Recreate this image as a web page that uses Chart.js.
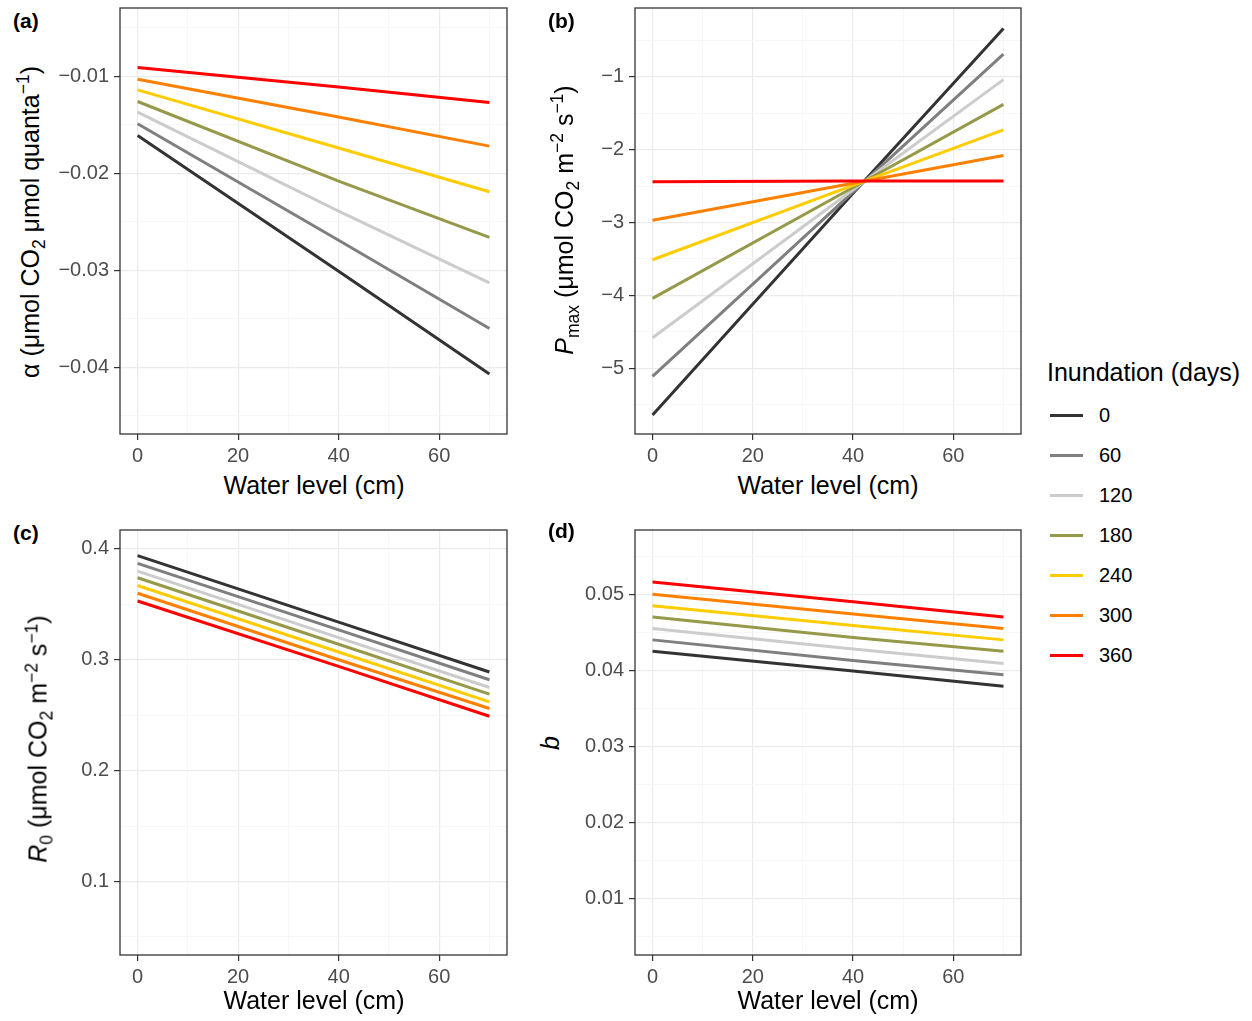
<!DOCTYPE html>
<html>
<head>
<meta charset="utf-8">
<script src="https://cdn.jsdelivr.net/npm/chart.js@4.4.0/dist/chart.umd.min.js"></script>
<style>
  body { margin: 0; background: #fff; font-family: "Liberation Sans", Arial, sans-serif; }
  #page { position: relative; width: 1252px; height: 1021px; overflow: hidden; }
  canvas { position: absolute; }
  .ytitle, .xtitle, .tag, .lg { position: absolute; white-space: nowrap; color: #000; }
  .ytitle { font-size: 25px; transform: translate(-50%, -50%) rotate(-90deg); }
  .xtitle { font-size: 25px; transform: translate(-50%, -50%); }
  .tag { font-size: 21px; font-weight: bold; transform: translateY(-50%); }
  sub, sup { font-size: 0.7em; line-height: 0; }
  .key { position: absolute; height: 3px; width: 33px; }
  .lg { font-size: 20px; transform: translateY(-50%); }
</style>
</head>
<body>
<div id="page">
  <canvas id="chartA" width="462" height="470" style="left:50px;top:0px"></canvas>
  <canvas id="chartB" width="461" height="470" style="left:565px;top:0px"></canvas>
  <canvas id="chartC" width="462" height="471" style="left:50px;top:520px"></canvas>
  <canvas id="chartD" width="461" height="471" style="left:565px;top:520px"></canvas>

  <div class="tag" style="left:13px;top:21px">(a)</div>
  <div class="tag" style="left:548px;top:21px">(b)</div>
  <div class="tag" style="left:13px;top:533px">(c)</div>
  <div class="tag" style="left:548px;top:531px">(d)</div>

  <div class="ytitle" style="left:30px;top:222px">α (μmol CO<sub>2</sub> μmol quanta<sup>−1</sup>)</div>
  <div class="ytitle" style="left:564px;top:220px"><i>P</i><sub>max</sub> (μmol CO<sub>2</sub> m<sup>−2</sup> s<sup>−1</sup>)</div>
  <div class="ytitle" style="left:38px;top:739px"><i>R</i><sub>0</sub> (μmol CO<sub>2</sub> m<sup>−2</sup> s<sup>−1</sup>)</div>
  <div class="ytitle" style="left:550px;top:743px"><i>b</i></div>

  <div class="xtitle" style="left:314px;top:485px">Water level (cm)</div>
  <div class="xtitle" style="left:828px;top:485px">Water level (cm)</div>
  <div class="xtitle" style="left:314px;top:1000px">Water level (cm)</div>
  <div class="xtitle" style="left:828px;top:1000px">Water level (cm)</div>

  <div class="lg" style="left:1047px;top:372px;font-size:25px">Inundation (days)</div>
  <div id="legend"></div>
</div>

<script>
// data
const waterLevel = [0, 40, 70];
const inundationDays = ['0', '60', '120', '180', '240', '300', '360'];
const lineColors = ['#333333', '#7f7f7f', '#cccccc', '#96994a', '#ffcc00', '#ff8000', '#ff0000'];

// (a) alpha
const alpha0   = [-0.0161, -0.0301, -0.0407];
const alpha60  = [-0.0149, -0.0269, -0.0360];
const alpha120 = [-0.0137, -0.0239, -0.0313];
const alpha180 = [-0.0126, -0.0208, -0.0266];
const alpha240 = [-0.0114, -0.0174, -0.0219];
const alpha300 = [-0.0103, -0.0142, -0.0172];
const alpha360 = [-0.0091, -0.0111, -0.0127];

// (b) Pmax
const pmax0   = [-5.64, -2.60, -0.34];
const pmax60  = [-5.11, -2.58, -0.69];
const pmax120 = [-4.58, -2.55, -1.04];
const pmax180 = [-4.04, -2.52, -1.38];
const pmax240 = [-3.51, -2.49, -1.73];
const pmax300 = [-2.97, -2.46, -2.08];
const pmax360 = [-2.44, -2.43, -2.43];

// (c) R0
const r0_0   = [0.394, 0.334, 0.289];
const r0_60  = [0.387, 0.327, 0.282];
const r0_120 = [0.380, 0.320, 0.275];
const r0_180 = [0.374, 0.314, 0.269];
const r0_240 = [0.367, 0.307, 0.262];
const r0_300 = [0.360, 0.300, 0.256];
const r0_360 = [0.353, 0.294, 0.249];

// (d) b
const b0   = [0.0425, 0.0399, 0.0379];
const b60  = [0.0440, 0.0413, 0.0394];
const b120 = [0.0455, 0.0428, 0.0409];
const b180 = [0.0470, 0.0443, 0.0425];
const b240 = [0.0485, 0.0459, 0.0440];
const b300 = [0.0500, 0.0474, 0.0455];
const b360 = [0.0516, 0.0490, 0.0470];

// ticks
const xTicks = [0, 20, 40, 60];
const xTickLabels = ['0', '20', '40', '60'];
const xMinor = [10, 30, 50, 70];

const alphaTicks = [-0.04, -0.03, -0.02, -0.01];
const alphaTickLabels = ['−0.04', '−0.03', '−0.02', '−0.01'];
const alphaMinor = [-0.045, -0.035, -0.025, -0.015, -0.005];

const pmaxTicks = [-5, -4, -3, -2, -1];
const pmaxTickLabels = ['−5', '−4', '−3', '−2', '−1'];
const pmaxMinor = [-5.5, -4.5, -3.5, -2.5, -1.5, -0.5];

const r0Ticks = [0.1, 0.2, 0.3, 0.4];
const r0TickLabels = ['0.1', '0.2', '0.3', '0.4'];
const r0Minor = [0.05, 0.15, 0.25, 0.35];

const bTicks = [0.01, 0.02, 0.03, 0.04, 0.05];
const bTickLabels = ['0.01', '0.02', '0.03', '0.04', '0.05'];
const bMinor = [0.005, 0.015, 0.025, 0.035, 0.045, 0.055];

// frame around the panel
const framePlugin = {
  id: 'frame',
  afterDraw(chart) {
    const { ctx, chartArea: a } = chart;
    ctx.save();
    ctx.strokeStyle = '#333333';
    ctx.lineWidth = 1.3;
    ctx.strokeRect(a.left, a.top, a.right - a.left, a.bottom - a.top);
    ctx.restore();
  }
};

function axisOpts(major, labels, minor, min, max, isX) {
  return {
    type: 'linear',
    min: min,
    max: max,
    afterBuildTicks: scale => {
      scale.ticks = major.concat(minor).sort((p, q) => p - q).map(v => ({ value: v }));
    },
    afterFit: scale => {
      if (isX) { scale.height = 36; scale.paddingLeft = 0; scale.paddingRight = 0; }
      else { scale.width = 70; scale.paddingTop = 0; scale.paddingBottom = 0; }
    },
    ticks: {
      autoSkip: false,
      maxRotation: 0,
      padding: isX ? 4 : 5,
      color: '#4d4d4d',
      font: { family: 'Liberation Sans', size: 20 },
      callback: value => {
        const i = major.indexOf(value);
        return i >= 0 ? labels[i] : '';
      }
    },
    grid: {
      color: c => major.indexOf(c.tick.value) >= 0 ? '#ebebeb' : '#f5f5f5',
      lineWidth: c => major.indexOf(c.tick.value) >= 0 ? 1.2 : 0.8,
      tickColor: c => major.indexOf(c.tick.value) >= 0 ? '#333333' : 'rgba(0,0,0,0)',
      tickLength: 6,
      tickWidth: 1.2
    },
    border: { display: false }
  };
}

function makeChart(id, series, yMajor, yLabels, yMinor, yMin, yMax, padTop) {
  const datasets = series.map((vals, i) => ({
    label: inundationDays[i],
    data: waterLevel.map((x, j) => ({ x: x, y: vals[j] })),
    borderColor: lineColors[i],
    borderWidth: 3,
    pointRadius: 0,
    tension: 0,
    order: series.length - i
  }));
  return new Chart(document.getElementById(id).getContext('2d'), {
    type: 'line',
    data: { datasets: datasets },
    options: {
      responsive: false,
      animation: false,
      events: [],
      layout: { padding: { top: padTop, right: 5, left: 0, bottom: 0 } },
      plugins: { legend: { display: false }, tooltip: { enabled: false } },
      scales: {
        x: axisOpts(xTicks, xTickLabels, xMinor, -3.5, 73.5, true),
        y: axisOpts(yMajor, yLabels, yMinor, yMin, yMax, false)
      }
    },
    plugins: [framePlugin]
  });
}

makeChart('chartA', [alpha0, alpha60, alpha120, alpha180, alpha240, alpha300, alpha360],
  alphaTicks, alphaTickLabels, alphaMinor, -0.04688, -0.00296, 8);
makeChart('chartB', [pmax0, pmax60, pmax120, pmax180, pmax240, pmax300, pmax360],
  pmaxTicks, pmaxTickLabels, pmaxMinor, -5.9, -0.058, 8);
makeChart('chartC', [r0_0, r0_60, r0_120, r0_180, r0_240, r0_300, r0_360],
  r0Ticks, r0TickLabels, r0Minor, 0.0336, 0.4171, 10);
makeChart('chartD', [b0, b60, b120, b180, b240, b300, b360],
  bTicks, bTickLabels, bMinor, 0.00256, 0.05845, 10);

// legend
const legend = document.getElementById('legend');
inundationDays.forEach((d, i) => {
  const y = 415 + i * 40;
  const key = document.createElement('div');
  key.className = 'key';
  key.style.left = '1050px';
  key.style.top = (y - 1.5) + 'px';
  key.style.background = lineColors[i];
  legend.appendChild(key);
  const lab = document.createElement('div');
  lab.className = 'lg';
  lab.style.left = '1099px';
  lab.style.top = y + 'px';
  lab.textContent = d;
  legend.appendChild(lab);
});
</script>
</body>
</html>
